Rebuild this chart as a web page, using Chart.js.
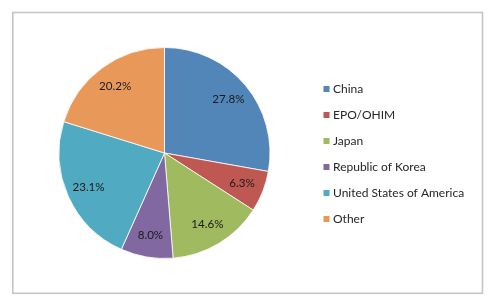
<!DOCTYPE html>
<html>
<head>
<meta charset="utf-8">
<script src="https://cdn.jsdelivr.net/npm/chart.js@4.4.0/dist/chart.umd.min.js"></script>
<style>
  html, body { margin: 0; padding: 0; background: #ffffff; }
  #wrap { width: 498px; height: 304px; position: relative; }
</style>
</head>
<body>
<div id="wrap"><canvas id="pie" width="498" height="304"></canvas></div>
<script>
// office names and their share of filings (%)
const offices = ['China', 'EPO/OHIM', 'Japan', 'Republic of Korea', 'United States of America', 'Other'];
const shares = [27.8, 6.3, 14.6, 8.0, 23.1, 20.2];
const sliceColors = ['#5386b8', '#bf5852', '#9fba5f', '#8168a1', '#50aac2', '#e8995a'];

const FONT = 'Lato, "DejaVu Sans", sans-serif';

// thin grey frame round the whole chart
const framePlugin = {
    id: 'frame',
    beforeDraw(chart) {
        const ctx = chart.ctx;
        ctx.save();
        ctx.fillStyle = '#ffffff';
        ctx.fillRect(0, 0, chart.width, chart.height);
        ctx.strokeStyle = '#c6c6c6';
        ctx.lineWidth = 1.6;
        ctx.strokeRect(12.8, 12.5, 469.7, 280.8);
        ctx.restore();
    }
};

// percentage labels inside each slice
const sliceLabels = {
    id: 'sliceLabels',
    afterDatasetsDraw(chart) {
        const ctx = chart.ctx;
        const meta = chart.getDatasetMeta(0);
        ctx.save();
        ctx.font = '11.6px ' + FONT;
        ctx.fillStyle = '#1a1a1a';
        ctx.textAlign = 'center';
        ctx.textBaseline = 'middle';
        meta.data.forEach((arc, i) => {
            const p = arc.getProps(['x', 'y', 'startAngle', 'endAngle', 'outerRadius'], true);
            const mid = (p.startAngle + p.endAngle) / 2;
            const r = p.outerRadius * 0.79;
            ctx.fillText(shares[i].toFixed(1) + '%', p.x + Math.cos(mid) * r, p.y + Math.sin(mid) * r);
        });
        ctx.restore();
    }
};

// legend on the right, Excel style
const sideLegend = {
    id: 'sideLegend',
    afterDraw(chart) {
        const ctx = chart.ctx;
        const x = 323.5, y0 = 89, step = 26;
        ctx.save();
        ctx.font = '12px ' + FONT;
        ctx.textBaseline = 'middle';
        offices.forEach((name, i) => {
            const y = y0 + i * step;
            ctx.fillStyle = sliceColors[i];
            ctx.fillRect(x, y - 3, 6, 6);
            ctx.fillStyle = '#262626';
            ctx.fillText(name, x + 9.5, y);
        });
        ctx.restore();
    }
};

new Chart(document.getElementById('pie'), {
    type: 'pie',
    data: {
        labels: offices,
        datasets: [{
            data: shares,
            backgroundColor: sliceColors,
            borderColor: 'rgba(255,255,255,0.8)',
            borderWidth: 1
        }]
    },
    options: {
        responsive: false,
        animation: false,
        layout: { padding: { left: 58, top: 47, right: 227, bottom: 45 } },
        plugins: {
            legend: { display: false },
            tooltip: { enabled: false }
        }
    },
    plugins: [framePlugin, sliceLabels, sideLegend]
});
</script>
</body>
</html>
